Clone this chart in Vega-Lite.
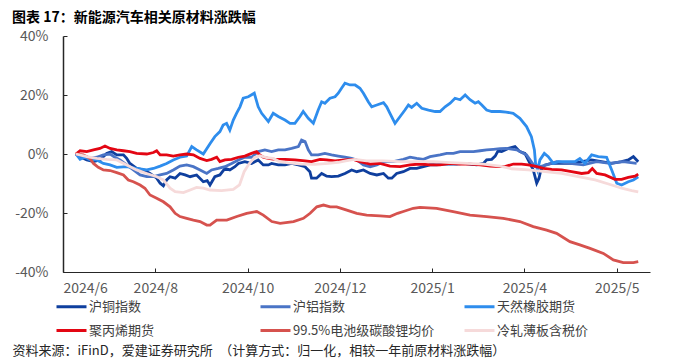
{
  "$schema": "https://vega.github.io/schema/vega-lite/v6.json",
  "width": 587,
  "height": 236,
  "autosize": {"type": "none"},
  "padding": {"left": 63, "top": 36, "right": 50, "bottom": 90},
  "background": "#ffffff",
  "config": {
    "view": {"stroke": null},
    "font": "Noto Sans CJK SC"
  },
  "title": {
    "text": "图表 17：新能源汽车相关原材料涨跌幅",
    "anchor": "start",
    "frame": "group",
    "dx": -51,
    "font": "Noto Sans CJK SC",
    "fontSize": 14,
    "fontWeight": "bold",
    "color": "#000000",
    "offset": 4
  },
  "datasets": {
    "cu": [
      {"d":5.6,"v":0},{"d":7.4,"v":-0.9},{"d":10.3,"v":-2},{"d":13.2,"v":-2.6},{"d":16,"v":-2},{"d":18.9,"v":0.2},{"d":21.1,"v":0.8},{"d":23.3,"v":-0.3},{"d":26.2,"v":-0.3},{"d":27.6,"v":-1.5},{"d":29,"v":-3.2},{"d":31.9,"v":-4.9},{"d":34.8,"v":-5.4},{"d":37.7,"v":-6.6},{"d":40.6,"v":-8.2},{"d":42.1,"v":-9.9},{"d":43.5,"v":-10.8},{"d":44.9,"v":-8.8},{"d":46.4,"v":-7.7},{"d":48.6,"v":-8.2},{"d":50.7,"v":-6.6},{"d":52.9,"v":-7.1},{"d":55.1,"v":-7.7},{"d":57.9,"v":-7.1},{"d":60.8,"v":-9.4},{"d":62.5,"v":-9},{"d":63.7,"v":-10.5},{"d":65.8,"v":-7.7},{"d":68,"v":-7.1},{"d":70.2,"v":-4.9},{"d":72.3,"v":-5.4},{"d":74.5,"v":-4.3},{"d":76,"v":-3.2},{"d":78.8,"v":-2.6},{"d":81.7,"v":-3.2},{"d":84.6,"v":-2},{"d":86.8,"v":-3.7},{"d":89,"v":-3.7},{"d":90.4,"v":-3.2},{"d":93.3,"v":-3.7},{"d":96.2,"v":-3.7},{"d":99.1,"v":-3.2},{"d":102,"v":-3.7},{"d":104.9,"v":-4.3},{"d":107,"v":-6},{"d":107.7,"v":-8.2},{"d":109.9,"v":-8.2},{"d":112.1,"v":-6.6},{"d":114.3,"v":-7.5},{"d":116.4,"v":-7.7},{"d":119.3,"v":-7.5},{"d":122.2,"v":-6.6},{"d":125.1,"v":-5.4},{"d":127.3,"v":-6},{"d":130.2,"v":-5.4},{"d":133.1,"v":-6.6},{"d":136,"v":-7.1},{"d":138.9,"v":-6.6},{"d":141,"v":-8.2},{"d":142.5,"v":-8.2},{"d":144.6,"v":-6.6},{"d":147.5,"v":-6},{"d":150.4,"v":-4.9},{"d":153.3,"v":-4.9},{"d":156.2,"v":-4.3},{"d":159.1,"v":-3.7},{"d":162,"v":-3.7},{"d":164.9,"v":-3.4},{"d":167.8,"v":-3.4},{"d":170.6,"v":-3.4},{"d":173.5,"v":-3.2},{"d":176.4,"v":-3.4},{"d":179.3,"v":-3.7},{"d":182.2,"v":-3.2},{"d":183.6,"v":-2},{"d":185.8,"v":-1.8},{"d":187.3,"v":-0.7},{"d":188.5,"v":1},{"d":190.1,"v":0.8},{"d":193,"v":1.9},{"d":195.9,"v":2.5},{"d":198,"v":0.8},{"d":200.2,"v":0.2},{"d":201.6,"v":-2},{"d":203.8,"v":-5.4},{"d":205.3,"v":-9.9},{"d":206.3,"v":-8.2},{"d":207.1,"v":-5.4},{"d":208.9,"v":-3.7},{"d":211.8,"v":-3.2},{"d":216.1,"v":-3.2},{"d":220.4,"v":-3.2},{"d":224.8,"v":-2.6},{"d":229.1,"v":-2},{"d":233.4,"v":-2.6},{"d":237.8,"v":-3.2},{"d":242.1,"v":-2.6},{"d":245,"v":-2},{"d":247.2,"v":-0.9},{"d":249.3,"v":-2.6}
    ],
    "al": [
      {"d":5.6,"v":0},{"d":8.8,"v":-0.9},{"d":11.7,"v":-1.5},{"d":14.6,"v":-1.1},{"d":17.5,"v":-0.3},{"d":20.4,"v":0},{"d":22.5,"v":-1.1},{"d":24.7,"v":-2},{"d":27.6,"v":-3.7},{"d":30.5,"v":-5.4},{"d":33.4,"v":-7.1},{"d":36.3,"v":-7.7},{"d":39.2,"v":-7.7},{"d":42.1,"v":-7.1},{"d":44.9,"v":-6.6},{"d":47.8,"v":-5.4},{"d":50.7,"v":-4.1},{"d":53.6,"v":-3.7},{"d":56.5,"v":-4.3},{"d":59.4,"v":-5.4},{"d":62.3,"v":-6.6},{"d":64.4,"v":-5.4},{"d":67.3,"v":-4.9},{"d":70.2,"v":-4.3},{"d":73.1,"v":-3.2},{"d":76,"v":-2},{"d":78.8,"v":-1.1},{"d":81.7,"v":-1.1},{"d":84.6,"v":0.8},{"d":87.5,"v":1.4},{"d":90.4,"v":0.8},{"d":93.3,"v":1.4},{"d":96.2,"v":1.4},{"d":99.1,"v":1.9},{"d":102,"v":2.5},{"d":103.4,"v":4.7},{"d":104.9,"v":4.2},{"d":106.3,"v":1.4},{"d":107.7,"v":-0.3},{"d":110.6,"v":-0.3},{"d":113.5,"v":0.2},{"d":116.4,"v":-0.3},{"d":119.3,"v":-0.7},{"d":122.2,"v":-1.1},{"d":125.1,"v":-1.5},{"d":127.3,"v":-2},{"d":130.2,"v":-3.7},{"d":133.1,"v":-4.3},{"d":136,"v":-3.7},{"d":138.9,"v":-2.6},{"d":143.2,"v":-2.6},{"d":147.5,"v":-1.8},{"d":150.4,"v":-1.1},{"d":153.3,"v":-1.5},{"d":156.2,"v":-1.8},{"d":159.1,"v":-0.9},{"d":163.4,"v":-0.3},{"d":166.3,"v":0.2},{"d":169.2,"v":0.2},{"d":172.1,"v":0.8},{"d":175,"v":0.8},{"d":177.9,"v":0.8},{"d":180.8,"v":1.1},{"d":183.6,"v":1.4},{"d":186.5,"v":1.6},{"d":189.4,"v":1.8},{"d":192,"v":1.9},{"d":196.6,"v":1.4},{"d":200.9,"v":-0.3},{"d":204.5,"v":-4.3},{"d":206.7,"v":-4.3},{"d":209.6,"v":-3.7},{"d":213.9,"v":-2.6},{"d":219.7,"v":-3.2},{"d":225.5,"v":-3.7},{"d":231.3,"v":-2.6},{"d":237,"v":-3.2},{"d":242.8,"v":-2.6},{"d":248.6,"v":-3.2}
    ],
    "rb": [
      {"d":5.6,"v":0},{"d":7.4,"v":-1.8},{"d":9.5,"v":-1.1},{"d":11.7,"v":-2},{"d":14.6,"v":-2},{"d":17.5,"v":-3.2},{"d":20.4,"v":-3.7},{"d":23.3,"v":-4.5},{"d":27.6,"v":-4.3},{"d":31.9,"v":-4.9},{"d":36.3,"v":-5.4},{"d":39.2,"v":-4.9},{"d":42.1,"v":-4.1},{"d":44.9,"v":-3.2},{"d":47.8,"v":-2},{"d":50.7,"v":-1.1},{"d":53.6,"v":-0.7},{"d":55.8,"v":2.5},{"d":57.9,"v":1.4},{"d":60.8,"v":0},{"d":63.7,"v":3.5},{"d":65.8,"v":5.9},{"d":68,"v":7.6},{"d":69.4,"v":9.8},{"d":70.9,"v":10.4},{"d":72.3,"v":8.1},{"d":73.8,"v":11.5},{"d":75.2,"v":13.8},{"d":76.7,"v":16},{"d":78.1,"v":18.9},{"d":80.3,"v":19.4},{"d":82.9,"v":20.6},{"d":84.6,"v":16},{"d":86.1,"v":13.8},{"d":89,"v":11},{"d":91.1,"v":13.8},{"d":93.3,"v":12.7},{"d":96.2,"v":11.5},{"d":98.4,"v":10.4},{"d":100.5,"v":10.4},{"d":102.7,"v":12.7},{"d":104.1,"v":14.4},{"d":106.3,"v":12.1},{"d":108.5,"v":10.4},{"d":110.6,"v":14.9},{"d":112.1,"v":17.7},{"d":113.5,"v":17.2},{"d":115.7,"v":18.9},{"d":117.9,"v":19.4},{"d":119.3,"v":20.6},{"d":120.7,"v":22.3},{"d":122.2,"v":24},{"d":124.4,"v":23.4},{"d":126.6,"v":23.4},{"d":128.7,"v":22.3},{"d":130.2,"v":20.6},{"d":132.3,"v":17.7},{"d":133.8,"v":16},{"d":136,"v":16.6},{"d":138.9,"v":17.4},{"d":140.3,"v":16},{"d":141.7,"v":13.8},{"d":143.9,"v":10.4},{"d":146.1,"v":12.7},{"d":148.2,"v":14.9},{"d":149.7,"v":16.6},{"d":151.1,"v":15.8},{"d":153.3,"v":17.2},{"d":155.5,"v":15.5},{"d":158.4,"v":14.9},{"d":161.3,"v":14.4},{"d":163.4,"v":14.4},{"d":165.6,"v":16},{"d":167.8,"v":17.2},{"d":169.9,"v":18.9},{"d":172.1,"v":18.4},{"d":174.3,"v":20},{"d":176.4,"v":18.4},{"d":178.6,"v":17.2},{"d":180,"v":17.7},{"d":181.5,"v":16.6},{"d":183.6,"v":14.9},{"d":185.8,"v":14.4},{"d":189.4,"v":14.4},{"d":192,"v":14.2},{"d":195.1,"v":13.8},{"d":198,"v":12.1},{"d":200.9,"v":9.3},{"d":203,"v":5.9},{"d":204.3,"v":1.4},{"d":204.8,"v":-3.2},{"d":205.7,"v":-5.4},{"d":206.7,"v":-2},{"d":208.6,"v":0.2},{"d":210.3,"v":-0.9},{"d":212.5,"v":-3.2},{"d":214.7,"v":-2.6},{"d":218.3,"v":-2.6},{"d":221.9,"v":-2.6},{"d":224,"v":-1.5},{"d":226.2,"v":-3.2},{"d":229.1,"v":-0.3},{"d":232,"v":-0.9},{"d":235.6,"v":-1.1},{"d":237.8,"v":-5.4},{"d":240,"v":-9.9},{"d":242.1,"v":-10.5},{"d":245,"v":-9.4},{"d":247.2,"v":-8.8},{"d":249.3,"v":-7.7}
    ],
    "pp": [
      {"d":5.6,"v":0},{"d":7.4,"v":1.1},{"d":10.3,"v":0.8},{"d":13.2,"v":1.4},{"d":16,"v":1.9},{"d":18.2,"v":2.7},{"d":20.4,"v":1.9},{"d":23.3,"v":1.4},{"d":26.2,"v":1.1},{"d":29,"v":0.8},{"d":31.9,"v":0.2},{"d":36.3,"v":0},{"d":39.2,"v":0.5},{"d":40.6,"v":1.1},{"d":42.1,"v":-0.3},{"d":44.9,"v":-0.3},{"d":47.8,"v":-0.7},{"d":50.7,"v":-0.3},{"d":53.6,"v":0},{"d":56.5,"v":-0.3},{"d":59.4,"v":-1.5},{"d":62.3,"v":-2.2},{"d":64.4,"v":-1.8},{"d":66.6,"v":-1.1},{"d":68,"v":-2.6},{"d":70.2,"v":-2},{"d":73.1,"v":-1.8},{"d":76,"v":-1.1},{"d":78.8,"v":-0.7},{"d":81.7,"v":0.2},{"d":83.9,"v":0.8},{"d":85.3,"v":-0.3},{"d":86.8,"v":-1.1},{"d":89,"v":-1.5},{"d":91.8,"v":-1.8},{"d":96.2,"v":-1.8},{"d":100.5,"v":-2},{"d":104.9,"v":-2.3},{"d":107.7,"v":-2.6},{"d":111.4,"v":-1.8},{"d":114.3,"v":-2},{"d":117.9,"v":-2.3},{"d":122.2,"v":-2},{"d":125.8,"v":-1.8},{"d":128.7,"v":-2.6},{"d":133.1,"v":-3.4},{"d":137.4,"v":-3.2},{"d":141.7,"v":-4.1},{"d":146.1,"v":-4.3},{"d":150.4,"v":-3.7},{"d":154.7,"v":-3.4},{"d":159.1,"v":-3.7},{"d":163.4,"v":-3.7},{"d":167.8,"v":-3.2},{"d":172.1,"v":-3.4},{"d":176.4,"v":-3.4},{"d":180.8,"v":-3.7},{"d":185.1,"v":-4.1},{"d":189.4,"v":-4.3},{"d":191.5,"v":-4.3},{"d":195.2,"v":-3.4},{"d":198.8,"v":-3.4},{"d":201.6,"v":-3.7},{"d":204.5,"v":-4.1},{"d":208.2,"v":-4.9},{"d":211.8,"v":-5.2},{"d":216.1,"v":-5.4},{"d":220.4,"v":-6},{"d":224.8,"v":-6.6},{"d":227.7,"v":-6.3},{"d":229.4,"v":-4.9},{"d":231.3,"v":-6.6},{"d":234.9,"v":-7.1},{"d":239.2,"v":-8.6},{"d":242.1,"v":-8.6},{"d":245,"v":-7.9},{"d":247.9,"v":-7.5},{"d":249.3,"v":-6.8}
    ],
    "li": [
      {"d":5.6,"v":0},{"d":8.8,"v":-0.3},{"d":11.7,"v":-1.5},{"d":13.2,"v":-3.2},{"d":15.3,"v":-4.5},{"d":17.5,"v":-5.4},{"d":20.4,"v":-5.6},{"d":23.3,"v":-6.3},{"d":26.2,"v":-7.1},{"d":28.3,"v":-8.8},{"d":30.5,"v":-9.4},{"d":33.4,"v":-10.5},{"d":35.5,"v":-11.6},{"d":37.7,"v":-13.9},{"d":40.6,"v":-15},{"d":43.5,"v":-16.2},{"d":46.4,"v":-17.9},{"d":48.6,"v":-20.1},{"d":50.7,"v":-21.2},{"d":53.6,"v":-21.8},{"d":56.5,"v":-22.4},{"d":59.4,"v":-22.9},{"d":62.3,"v":-24.1},{"d":63.7,"v":-24.1},{"d":66.6,"v":-22.4},{"d":71,"v":-22.4},{"d":75.3,"v":-21.2},{"d":79.6,"v":-20.1},{"d":84,"v":-19.5},{"d":86.8,"v":-20.7},{"d":90.5,"v":-22.9},{"d":94.1,"v":-23.5},{"d":99.9,"v":-22.9},{"d":104.2,"v":-21.8},{"d":107.1,"v":-20.1},{"d":110,"v":-17.9},{"d":112.9,"v":-17.3},{"d":115.8,"v":-17.9},{"d":118.6,"v":-17.9},{"d":123,"v":-19},{"d":127.3,"v":-20.1},{"d":131.6,"v":-20.7},{"d":137.4,"v":-21},{"d":141.7,"v":-21.2},{"d":145,"v":-20.1},{"d":147.5,"v":-19.5},{"d":151.8,"v":-18.4},{"d":154.7,"v":-18.1},{"d":161.9,"v":-18.4},{"d":169.1,"v":-19.5},{"d":176.4,"v":-20.7},{"d":183.6,"v":-21.2},{"d":190.8,"v":-21.8},{"d":198,"v":-22.9},{"d":203.8,"v":-24.6},{"d":209.6,"v":-25.8},{"d":213.9,"v":-26.9},{"d":219.7,"v":-29.7},{"d":224,"v":-30.8},{"d":228.4,"v":-32},{"d":234.2,"v":-33.7},{"d":238.5,"v":-35.9},{"d":242.8,"v":-36.8},{"d":247.2,"v":-36.8},{"d":249.3,"v":-36.5}
    ],
    "cr": [
      {"d":5.6,"v":0},{"d":10.3,"v":-0.9},{"d":14.6,"v":-1.5},{"d":18.9,"v":-1.8},{"d":23.3,"v":-2},{"d":27.6,"v":-3.7},{"d":31.9,"v":-5.4},{"d":36.3,"v":-6.6},{"d":40.6,"v":-7.7},{"d":43.5,"v":-8.8},{"d":46.4,"v":-11.6},{"d":48.6,"v":-12.8},{"d":52.2,"v":-13.1},{"d":55.1,"v":-12.2},{"d":57.9,"v":-11.3},{"d":60.8,"v":-11.6},{"d":63.7,"v":-12.2},{"d":68.7,"v":-12.4},{"d":73.8,"v":-12},{"d":76.5,"v":-10.5},{"d":78.5,"v":-6},{"d":80.5,"v":-3.5},{"d":83,"v":-1.2},{"d":85.3,"v":-0.6},{"d":88.2,"v":-1.2},{"d":91.1,"v":-1.5},{"d":93.3,"v":-2.4},{"d":97.6,"v":-3},{"d":103.4,"v":-3.4},{"d":109.2,"v":-3.5},{"d":115,"v":-3.2},{"d":119.3,"v":-2.8},{"d":123.6,"v":-2.2},{"d":126.5,"v":-1.8},{"d":131.6,"v":-2.3},{"d":138.9,"v":-2.3},{"d":146.1,"v":-2.6},{"d":153.3,"v":-2.6},{"d":160.5,"v":-2.6},{"d":167.8,"v":-2.9},{"d":175,"v":-3.2},{"d":182.2,"v":-3.4},{"d":189.4,"v":-4.1},{"d":194.4,"v":-5},{"d":201.6,"v":-5.4},{"d":208.9,"v":-6},{"d":216.1,"v":-6.6},{"d":223.3,"v":-7.7},{"d":230.6,"v":-8.8},{"d":237.8,"v":-10.5},{"d":242.1,"v":-11.6},{"d":246.5,"v":-12.4},{"d":249.3,"v":-12.8}
    ]
  },
  "encoding": {
    "x": {
      "field": "d",
      "type": "quantitative",
      "scale": {"domain": [0, 254.4], "nice": false, "zero": false},
      "axis": {
        "values": [0, 40, 80, 120, 160, 200, 240],
        "labelExpr": "['2024/6','2024/8','2024/10','2024/12','2025/1','2025/4','2025/5'][round(datum.value/40)]",
        "grid": false,
        "domainColor": "#262626",
        "domainWidth": 1.2,
        "tickColor": "#262626",
        "tickSize": -4,
        "labelPadding": 13,
        "labelFont": "Noto Sans CJK SC",
        "labelFontSize": 14,
        "labelColor": "#595959",
        "title": "资料来源：iFinD，爱建证券研究所　（计算方式：归一化，相较一年前原材料涨跌幅）",
        "titleX": -51,
        "titleY": 78,
        "titleAnchor": "start",
        "titleAlign": "left",
        "titleBaseline": "middle",
        "titleFont": "Noto Sans CJK SC",
        "titleFontSize": 13,
        "titleFontWeight": "normal",
        "titleColor": "#262626"
      }
    },
    "y": {
      "field": "v",
      "type": "quantitative",
      "scale": {"domain": [-40, 40], "nice": false},
      "axis": {
        "values": [-40, -20, 0, 20, 40],
        "labelExpr": "datum.value + '%'",
        "grid": false,
        "domainColor": "#262626",
        "domainWidth": 1.5,
        "tickColor": "#262626",
        "tickSize": -4,
        "labelPadding": 19,
        "labelFont": "Noto Sans CJK SC",
        "labelFontSize": 14,
        "labelColor": "#595959",
        "title": null
      }
    }
  },
  "layer": [
    {
      "data": {"name": "cu"},
      "mark": {"type": "line", "strokeWidth": 2.8},
      "encoding": {
        "color": {
          "datum": "沪铜指数",
          "type": "nominal",
          "scale": {
            "domain": ["沪铜指数", "沪铝指数", "天然橡胶期货", "聚丙烯期货", "99.5%电池级碳酸锂均价", "冷轧薄板含税价"],
            "range": ["#0f3f9e", "#4a74c6", "#2e8ded", "#e30613", "#d6524e", "#f6dada"]
          },
          "legend": {
            "orient": "none",
            "legendX": -8,
            "legendY": 254,
            "direction": "horizontal",
            "columns": 3,
            "gridAlign": "all",
            "columnPadding": 23,
            "rowPadding": -16,
            "symbolType": "stroke",
            "symbolSize": 900,
            "symbolStrokeWidth": 3,
            "labelFont": "Noto Sans CJK SC",
            "labelFontSize": 13,
            "labelColor": "#404040",
            "labelOffset": 1,
            "labelLimit": 300,
            "title": null
          }
        }
      }
    },
    {"data": {"name": "al"}, "mark": {"type": "line", "strokeWidth": 2.8}, "encoding": {"color": {"datum": "沪铝指数", "type": "nominal"}}},
    {"data": {"name": "rb"}, "mark": {"type": "line", "strokeWidth": 2.8}, "encoding": {"color": {"datum": "天然橡胶期货", "type": "nominal"}}},
    {"data": {"name": "pp"}, "mark": {"type": "line", "strokeWidth": 2.8}, "encoding": {"color": {"datum": "聚丙烯期货", "type": "nominal"}}},
    {"data": {"name": "li"}, "mark": {"type": "line", "strokeWidth": 2.8}, "encoding": {"color": {"datum": "99.5%电池级碳酸锂均价", "type": "nominal"}}},
    {"data": {"name": "cr"}, "mark": {"type": "line", "strokeWidth": 2.8}, "encoding": {"color": {"datum": "冷轧薄板含税价", "type": "nominal"}}},
    {
      "data": {"values": [{}]},
      "mark": {"type": "rule", "color": "#404040", "strokeWidth": 1.3, "clip": false},
      "encoding": {"x": {"datum": -22.1}, "x2": {"datum": 268.7}, "y": {"datum": 42.71}}
    },
    {
      "data": {"values": [{}]},
      "mark": {"type": "rule", "color": "#404040", "strokeWidth": 1.3, "clip": false},
      "encoding": {"x": {"datum": -22.1}, "x2": {"datum": 268.7}, "y": {"datum": -62.03}}
    }
  ]
}
